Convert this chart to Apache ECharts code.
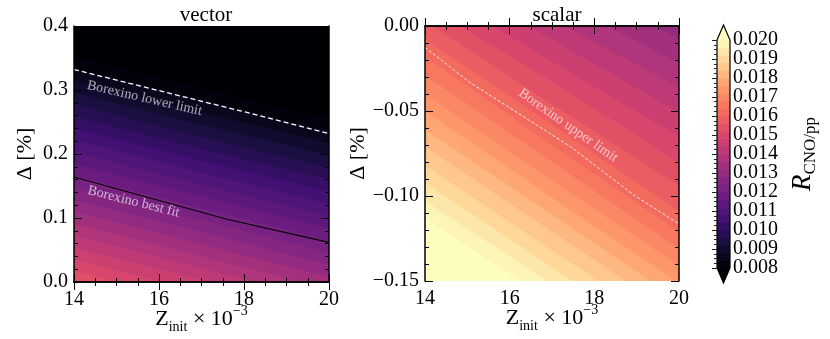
<!DOCTYPE html>
<html>
<head>
<meta charset="utf-8">
<script src="https://cdn.jsdelivr.net/npm/echarts@6/dist/echarts.min.js"></script>
<style>
html, body { margin: 0; padding: 0; background: #fff; }
#chart { width: 830px; height: 339px; }
</style>
</head>
<body>
<div id="chart"></div>
<script>
// contour levels of R_CNO/pp
var levels = [0.0080, 0.0084, 0.0088, 0.0092, 0.0096, 0.0100, 0.0104, 0.0108, 0.0112, 0.0116,
  0.0120, 0.0124, 0.0128, 0.0132, 0.0136, 0.0140, 0.0144, 0.0148, 0.0152, 0.0156,
  0.0160, 0.0164, 0.0168, 0.0172, 0.0176, 0.0180, 0.0184, 0.0188, 0.0192, 0.0196, 0.0200];
// colorbar tick labels
var cbTicks = [0.008, 0.009, 0.010, 0.011, 0.012, 0.013, 0.014, 0.015, 0.016, 0.017, 0.018, 0.019, 0.020];

// Z_init positions where the contour lines are read
var zCross = [14, 17, 20];

// vector panel: Delta of each contour at Z = 14, 17, 20
var vecLevels = [0.0080, 0.0084, 0.0088, 0.0092, 0.0096, 0.0100, 0.0104, 0.0108, 0.0112, 0.0116,
  0.0120, 0.0124, 0.0128, 0.0132, 0.0136, 0.0140, 0.0144, 0.0148, 0.0152, 0.0156];
var vecD14 = [0.352, 0.333, 0.315, 0.296, 0.278, 0.259, 0.240, 0.222, 0.203, 0.184,
  0.166, 0.147, 0.128, 0.110, 0.091, 0.073, 0.054, 0.035, 0.017, -0.002];
var vecD17 = [0.303, 0.284, 0.265, 0.246, 0.227, 0.208, 0.190, 0.171, 0.152, 0.134,
  0.115, 0.096, 0.078, 0.059, 0.040, 0.022, 0.003, -0.016, -0.034, -0.053];
var vecD20 = [0.255, 0.236, 0.217, 0.198, 0.179, 0.160, 0.141, 0.122, 0.103, 0.084,
  0.065, 0.046, 0.027, 0.008, -0.011, -0.030, -0.049, -0.068, -0.087, -0.106];

// scalar panel
var sclLevels = [0.0128, 0.0132, 0.0136, 0.0140, 0.0144, 0.0148, 0.0152, 0.0156, 0.0160, 0.0164,
  0.0168, 0.0172, 0.0176, 0.0180, 0.0184, 0.0188, 0.0192, 0.0196, 0.0200];
var sclD14 = [0.076, 0.066, 0.055, 0.045, 0.034, 0.024, 0.013, 0.003, -0.008, -0.018,
  -0.029, -0.040, -0.050, -0.061, -0.071, -0.082, -0.092, -0.103, -0.113];
var sclD17 = [0.042, 0.029, 0.017, 0.004, -0.008, -0.021, -0.033, -0.046, -0.058, -0.070,
  -0.080, -0.091, -0.101, -0.111, -0.121, -0.132, -0.142, -0.152, -0.162];
var sclD20 = [0.007, -0.007, -0.022, -0.036, -0.051, -0.065, -0.080, -0.094, -0.109, -0.121,
  -0.131, -0.141, -0.151, -0.161, -0.171, -0.181, -0.191, -0.201, -0.211];

// Borexino lines
var lowerLimit = [[14, 0.332], [16, 0.299], [18, 0.266], [20, 0.232]];
var bestFit = [[14, 0.164], [17.6, 0.098], [20, 0.062]];
var upperLimit = [[14, -0.0126], [15.07, -0.0334], [17.44, -0.071], [18.94, -0.0996], [20, -0.1164]];

var magma = ['#000004', '#140e36', '#3b0f70', '#641a80', '#8c2981', '#b73779',
  '#de4968', '#f7705c', '#fe9f6d', '#fecf92', '#fcfdbf'];

function hex2rgb (h) {
  return [parseInt(h.substr(1, 2), 16), parseInt(h.substr(3, 2), 16), parseInt(h.substr(5, 2), 16)];
}
function cmap (t) {
  t = Math.max(0, Math.min(1, t));
  var s = t * 10, k = Math.min(9, Math.floor(s)), f = s - k;
  var a = hex2rgb(magma[k]), b = hex2rgb(magma[k + 1]);
  return 'rgb(' + Math.round(a[0] + (b[0] - a[0]) * f) + ',' +
    Math.round(a[1] + (b[1] - a[1]) * f) + ',' +
    Math.round(a[2] + (b[2] - a[2]) * f) + ')';
}
var nBands = levels.length - 1;
var step = levels[1] - levels[0];
function bandColor (lo) {
  var i = Math.round((lo - levels[0]) / step);
  if (i >= nBands) return cmap(1);
  return cmap((i + 0.5) / nBands);
}

var serif = 'Liberation Serif';
var series = [];

function addBands (lv, d14, d17, d20, ax) {
  lv.forEach(function (l, i) {
    series.push({
      type: 'line', xAxisIndex: ax, yAxisIndex: ax, silent: true,
      symbol: 'none', lineStyle: { width: 0 },
      areaStyle: { color: bandColor(l), opacity: 1, origin: 'start' },
      data: [[zCross[0], d14[i]], [zCross[1], d17[i]], [zCross[2], d20[i]]]
    });
  });
}
addBands(vecLevels, vecD14, vecD17, vecD20, 0);
addBands(sclLevels, sclD14, sclD17, sclD20, 2);

series.push({
  type: 'line', xAxisIndex: 0, yAxisIndex: 0, symbol: 'none', silent: true,
  lineStyle: { color: '#fff', width: 1.3, type: [5, 3] }, data: lowerLimit
});
series.push({
  type: 'line', xAxisIndex: 0, yAxisIndex: 0, symbol: 'none', silent: true,
  lineStyle: { color: '#000', width: 1.2 }, data: bestFit
});
series.push({
  type: 'line', xAxisIndex: 2, yAxisIndex: 2, symbol: 'none', silent: true,
  lineStyle: { color: 'rgba(255,255,255,0.9)', width: 1, type: [3, 2] }, data: upperLimit
});

function note (ax, pt, text, rot) {
  series.push({
    type: 'scatter', xAxisIndex: ax, yAxisIndex: ax, symbolSize: 0, silent: true, z: 5,
    data: [pt],
    label: {
      show: true, position: 'inside', formatter: text, rotate: rot,
      color: 'rgba(255,255,255,0.82)', fontFamily: serif, fontSize: 14
    }
  });
}
note(0, [15.66, 0.287], 'Borexino lower limit', -13);
note(0, [15.40, 0.1255], 'Borexino best fit', -14);
note(2, [17.38, -0.0585], 'Borexino upper limit', -35);

// colorbar
var cbBands = [];
for (var i = 0; i < nBands; i++) cbBands.push([levels[i], levels[i + 1]]);
series.push({
  type: 'custom', xAxisIndex: 4, yAxisIndex: 4, silent: true,
  data: cbBands,
  renderItem: function (params, api) {
    var p0 = api.coord([0, api.value(1)]);
    var p1 = api.coord([1, api.value(0)]);
    return {
      type: 'rect',
      shape: { x: p0[0], y: p0[1] - 0.5, width: p1[0] - p0[0], height: p1[1] - p0[1] + 1 },
      style: { fill: bandColor(cbBands[params.dataIndex][0]) }
    };
  }
});
series.push({
  type: 'custom', xAxisIndex: 4, yAxisIndex: 4, silent: true, z: 4,
  data: [[0]],
  renderItem: function (params, api) {
    var top = api.coord([0, levels[levels.length - 1]]);
    var bot = api.coord([1, levels[0]]);
    var x0 = top[0], x1 = bot[0], xm = (x0 + x1) / 2, yT = top[1], yB = bot[1], h = 15;
    return {
      type: 'group',
      children: [
        { type: 'polygon', shape: { points: [[x0, yT], [x1, yT], [xm, yT - h]] }, style: { fill: cmap(1) } },
        { type: 'polygon', shape: { points: [[x0, yB], [x1, yB], [xm, yB + h]] }, style: { fill: cmap(0) } },
        {
          type: 'polygon',
          shape: { points: [[x0, yT], [xm, yT - h], [x1, yT], [x1, yB], [xm, yB + h], [x0, yB]] },
          style: { fill: 'none', stroke: '#000', lineWidth: 1.2 }
        }
      ]
    };
  }
});
// colorbar tick labels as text, so none of them is hidden
series.push({
  type: 'custom', xAxisIndex: 4, yAxisIndex: 4, silent: true, z: 6,
  data: cbTicks.map(function (v) { return [1, v]; }),
  renderItem: function (params, api) {
    var p = api.coord([1, api.value(1)]);
    return {
      type: 'text',
      style: {
        x: p[0] + 3, y: p[1], text: api.value(1).toFixed(3),
        fill: '#000', font: '20px "Liberation Serif"', verticalAlign: 'middle', align: 'left'
      }
    };
  }
});

function xAx (grid, pos, show) {
  return {
    type: 'value', gridIndex: grid, position: pos, min: 14, max: 20, interval: 2, z: 10,
    axisLine: { lineStyle: { color: '#000', width: 1.5 } },
    axisTick: { inside: true, length: 8, lineStyle: { color: '#000', width: 1 } },
    minorTick: { show: true, splitNumber: 4, length: 4, lineStyle: { color: '#000', width: 1 } },
    splitLine: { show: false },
    axisLabel: { show: show, color: '#000', fontFamily: serif, fontSize: 20, margin: 8 },
    name: show ? '{m|Z}{s|init}{m| \u00d7 10}{p|\u22123}' : '',
    nameLocation: 'middle', nameGap: 22, nameMoveOverlap: false,
    nameTextStyle: {
      color: '#000', fontFamily: serif,
      rich: {
        m: { fontSize: 22, fontFamily: serif, color: '#000', lineHeight: 30 },
        s: { fontSize: 14, fontFamily: serif, color: '#000', lineHeight: 14, verticalAlign: 'bottom' },
        p: { fontSize: 14, fontFamily: serif, color: '#000', lineHeight: 14, verticalAlign: 'top' }
      }
    }
  };
}
function yAx (grid, pos, show, min, max, iv, dec) {
  return {
    type: 'value', gridIndex: grid, position: pos, min: min, max: max, interval: iv, z: 10,
    axisLine: { lineStyle: { color: '#000', width: 1.5 } },
    axisTick: { inside: true, length: 8, lineStyle: { color: '#000', width: 1 } },
    minorTick: { show: true, splitNumber: 5, length: 4, lineStyle: { color: '#000', width: 1 } },
    splitLine: { show: false },
    axisLabel: {
      show: show, color: '#000', fontFamily: serif, fontSize: 20, margin: 6,
      formatter: function (v) { var s = Math.abs(v).toFixed(dec); return (v < -1e-9 ? '\u2212' : '') + s; }
    },
    name: show ? '\u0394 [%]' : '',
    nameLocation: 'middle', nameGap: 38,
    nameTextStyle: { color: '#000', fontFamily: serif, fontSize: 22 }
  };
}

var option = {
  animation: false,
  backgroundColor: '#fff',
  title: [
    { text: 'vector', left: 201, top: 0, textAlign: 'center',
      textStyle: { fontFamily: serif, fontSize: 21, fontWeight: 'normal', color: '#000' } },
    { text: 'scalar', left: 552, top: 0, textAlign: 'center',
      textStyle: { fontFamily: serif, fontSize: 21, fontWeight: 'normal', color: '#000' } }
  ],
  grid: [
    { left: 74, top: 26, width: 255, height: 256, show: true, backgroundColor: cmap(0), borderWidth: 0, outerBoundsMode: 'none' },
    { left: 425, top: 26, width: 254, height: 255, show: true, backgroundColor: bandColor(0.0124), borderWidth: 0, outerBoundsMode: 'none' },
    { left: 717, top: 40, width: 13, height: 228, outerBoundsMode: 'none' }
  ],
  xAxis: [
    xAx(0, 'bottom', true), xAx(0, 'top', false),
    xAx(1, 'bottom', true), xAx(1, 'top', false),
    { type: 'value', gridIndex: 2, min: 0, max: 1, show: false }
  ],
  yAxis: [
    yAx(0, 'left', true, 0, 0.4, 0.1, 1), yAx(0, 'right', false, 0, 0.4, 0.1, 1),
    yAx(1, 'left', true, -0.15, 0, 0.05, 2), yAx(1, 'right', false, -0.15, 0, 0.05, 2),
    {
      type: 'value', gridIndex: 2, position: 'right', min: 0.008, max: 0.020, interval: 0.001, z: 10,
      axisLine: { show: false },
      axisTick: { inside: true, length: 5, lineStyle: { color: '#222', width: 1 } },
      minorTick: { show: true, splitNumber: 4, length: 3, lineStyle: { color: '#222', width: 1 } },
      splitLine: { show: false },
      axisLabel: { show: false },
      name: '{r|R}{s|CNO/pp}', nameLocation: 'middle', nameRotate: 90, nameGap: 57,
      nameTextStyle: {
        rich: {
          r: { fontSize: 27, fontFamily: serif, fontStyle: 'italic', color: '#000', lineHeight: 32 },
          s: { fontSize: 17, fontFamily: serif, color: '#000', lineHeight: 17, verticalAlign: 'bottom' }
        }
      }
    }
  ],
  series: series
};

var chart = echarts.init(document.getElementById('chart'));
chart.setOption(option);
</script>
</body>
</html>
